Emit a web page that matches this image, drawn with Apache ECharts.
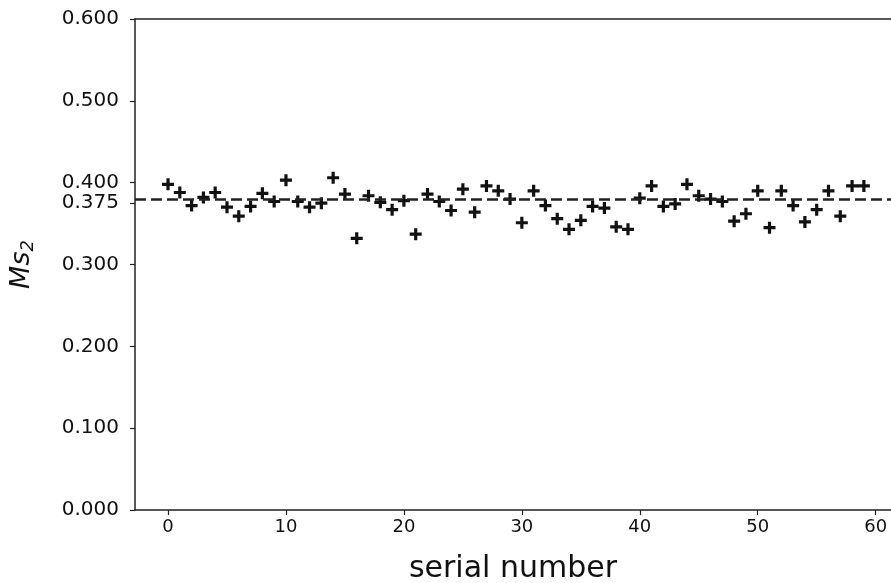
<!DOCTYPE html>
<html>
<head>
<meta charset="utf-8">
<script src="https://cdn.jsdelivr.net/npm/echarts@6/dist/echarts.min.js"></script>
<style>
  html, body { margin: 0; padding: 0; background: #fff; }
  #chart { width: 891px; height: 583px; }
</style>
</head>
<body>
<div id="chart"></div>
<script>
// 每个序号对应的 Ms2 值
const serial = [];
for (let i = 0; i < 60; i++) serial.push(i);

const ms2 = [
  0.398, 0.388, 0.372, 0.382, 0.388, 0.370, 0.359, 0.371, 0.387, 0.377,
  0.403, 0.377, 0.370, 0.375, 0.406, 0.386, 0.332, 0.384, 0.376, 0.367,
  0.378, 0.337, 0.386, 0.377, 0.366, 0.392, 0.364, 0.396, 0.390, 0.380,
  0.351, 0.390, 0.372, 0.356, 0.343, 0.354, 0.371, 0.369, 0.346, 0.343,
  0.381, 0.396, 0.371, 0.374, 0.398, 0.384, 0.380, 0.377, 0.353, 0.362,
  0.390, 0.345, 0.390, 0.372, 0.352, 0.367, 0.390, 0.359, 0.396, 0.396
];

// 参考线
const refValue = 0.375;

// 刻度
const xTicks = [0, 10, 20, 30, 40, 50, 60];
const yTicks = [0, 0.1, 0.2, 0.3, 0.375, 0.4, 0.5, 0.6];

const xMin = -2.8;
const xMax = 61.3;

const plus = 'path://M4.4,0H7.6V4.4H12V7.6H7.6V12H4.4V7.6H0V4.4H4.4Z';
const font = 'DejaVu Sans';
const axisColor = '#222';

const chart = echarts.init(document.getElementById('chart'));

chart.setOption({
  animation: false,
  textStyle: { fontFamily: font, color: '#111' },
  grid: { left: 135, top: 19, right: 0, bottom: 73, outerBoundsMode: 'none' },
  xAxis: [
    {
      type: 'value',
      min: xMin,
      max: xMax,
      name: 'serial number',
      nameLocation: 'middle',
      nameGap: 44,
      nameTextStyle: { fontSize: 30, color: '#111', fontFamily: font },
      splitLine: { show: false },
      axisLine: { onZero: false, lineStyle: { color: axisColor, width: 1.5 } },
      axisTick: { customValues: xTicks, length: 5, lineStyle: { color: axisColor, width: 1.2 } },
      axisLabel: {
        customValues: xTicks,
        margin: 8,
        fontSize: 18,
        color: '#111',
        fontFamily: font
      }
    },
    {
      // 上边框
      type: 'value',
      position: 'top',
      min: xMin,
      max: xMax,
      splitLine: { show: false },
      axisLine: { onZero: false, lineStyle: { color: axisColor, width: 1.5 } },
      axisTick: { show: false },
      axisLabel: { show: false }
    }
  ],
  yAxis: {
    type: 'value',
    min: 0,
    max: 0.6,
    name: '{i|Ms}{s|2}',
    nameLocation: 'middle',
    nameRotate: 90,
    nameGap: 98,
    nameTextStyle: {
      rich: {
        i: { fontSize: 27, fontStyle: 'italic', fontFamily: font, color: '#111' },
        s: { fontSize: 18, fontStyle: 'italic', fontFamily: font, color: '#111', verticalAlign: 'bottom', padding: [12, 0, 0, 0] }
      }
    },
    splitLine: { show: false },
    axisLine: { show: true, onZero: false, lineStyle: { color: axisColor, width: 1.5 } },
    axisTick: { show: true, customValues: yTicks, length: 5, lineStyle: { color: axisColor, width: 1.2 } },
    axisLabel: {
      customValues: yTicks,
      margin: 16,
      fontSize: 20,
      color: '#111',
      fontFamily: font,
      formatter: v => v.toFixed(3)
    }
  },
  series: [
    {
      type: 'scatter',
      data: serial.map((x, i) => [x, ms2[i]]),
      symbol: plus,
      symbolSize: 12,
      itemStyle: { color: '#111', opacity: 1 },
      z: 3,
      markLine: {
        silent: true,
        symbol: ['none', 'none'],
        label: { show: false },
        lineStyle: { color: '#222', type: [11, 5], width: 2.5 },
        data: [{ yAxis: refValue }]
      }
    }
  ]
});
</script>
</body>
</html>
